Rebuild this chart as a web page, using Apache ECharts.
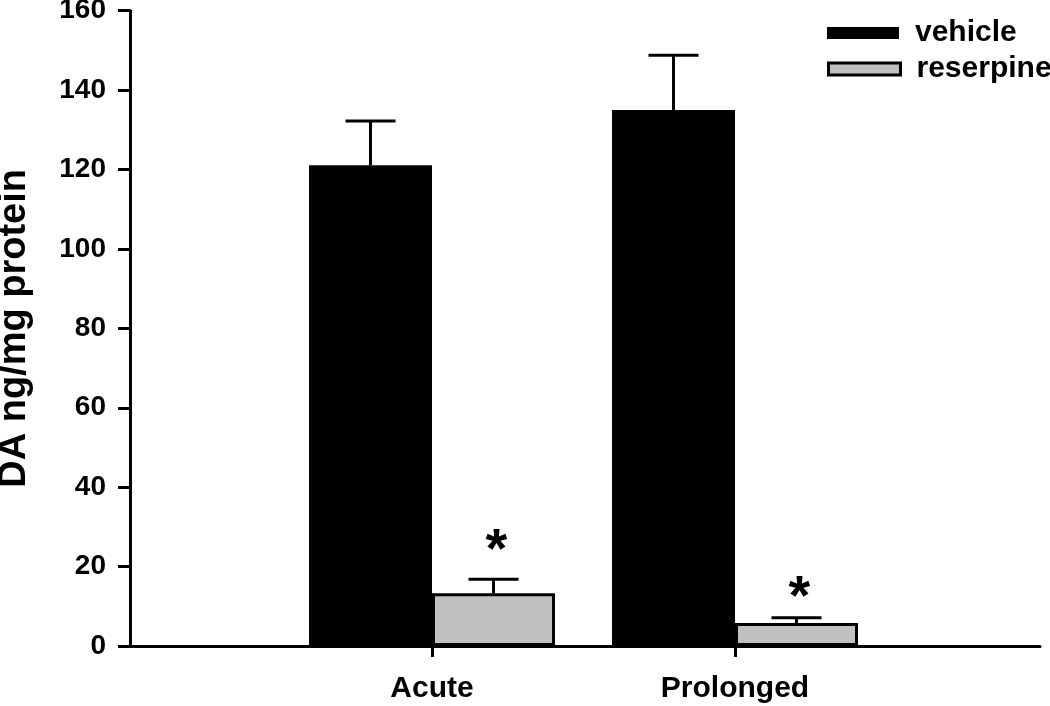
<!DOCTYPE html>
<html>
<head>
<meta charset="utf-8">
<script src="https://cdn.jsdelivr.net/npm/echarts@6/dist/echarts.min.js"></script>
<style>html,body{margin:0;padding:0;background:#fff}#chart{width:1050px;height:706px}</style>
</head>
<body>
<div id="chart"></div>
<script>
// ---- data ----
const categories = ['Acute', 'Prolonged'];
const vehicleMean = [121.1, 135.0];
const vehicleSem = [11.1, 13.8];
const reserpineMean = [13.3, 5.8];
const reserpineSem = [3.5, 1.3];
const reserpineStarY = [26.2, 14.4]; // asterisk anchor values
const yTicks = { min: 0, max: 160, interval: 20 };
const yTitle = 'DA ng/mg protein';
const seriesNames = ['vehicle', 'reserpine'];

const FONT = '"Liberation Sans", Arial, Helvetica, sans-serif';
const BAR_W = 123;

function errRenderer(means, sems, sign, stars, starY) {
  return function (params, api) {
    const i = api.value(0);
    const m = means[i], s = sems[i];
    const base = api.coord([i, m]);
    const top = api.coord([i, m + s]);
    const x = base[0] + sign * BAR_W / 2;
    const children = [
      { type: 'line', shape: { x1: x, y1: base[1], x2: x, y2: top[1] }, style: { stroke: '#000', lineWidth: 3 } },
      { type: 'line', shape: { x1: x - 25, y1: top[1], x2: x + 25, y2: top[1] }, style: { stroke: '#000', lineWidth: 3 } }
    ];
    if (stars) {
      const sp = api.coord([i, starY[i]]);
      children.push({ type: 'text', x: x + 3, y: sp[1] + 10, style: { text: '*', fill: '#000', font: 'bold 56px ' + FONT, align: 'center', verticalAlign: 'middle' } });
    }
    return { type: 'group', children };
  };
}

const chart = echarts.init(document.getElementById('chart'), null, { renderer: 'canvas' });
const option = {
  animation: false,
  backgroundColor: '#fff',
  textStyle: { fontFamily: FONT },
  legend: [
    { data: [seriesNames[0]], left: 822, top: 13, itemWidth: 72, itemHeight: 12, icon: 'rect',
      itemStyle: { color: '#000', borderColor: '#000', borderWidth: 0 },
      textStyle: { fontSize: 30, fontWeight: 'bold', color: '#000', fontFamily: FONT, padding: [0, 0, 0, 11] } },
    { data: [seriesNames[1]], left: 822, top: 49, itemWidth: 72, itemHeight: 12, icon: 'rect',
      itemStyle: { color: '#c0c0c0', borderColor: '#000', borderWidth: 3 },
      textStyle: { fontSize: 30, fontWeight: 'bold', color: '#000', fontFamily: FONT, padding: [0, 0, 0, 11] } }
  ],
  grid: [
    { left: 130, right: 10, top: 10.7, bottom: 60, outerBoundsMode: 'none', containLabel: false },
    { left: 280.5, right: 163.5, top: 10.7, bottom: 60, outerBoundsMode: 'none', containLabel: false }
  ],
  xAxis: [
    { gridIndex: 0, type: 'value', min: 0, max: 1,
      axisLine: { show: true, lineStyle: { color: '#000', width: 3 } },
      axisTick: { show: false }, axisLabel: { show: false }, splitLine: { show: false } },
    { gridIndex: 1, type: 'category', data: categories,
      axisLine: { show: false },
      axisTick: { show: true, alignWithLabel: true, length: 11, lineStyle: { color: '#000', width: 3 } },
      axisLabel: { fontSize: 30, fontWeight: 'bold', color: '#000', margin: 28, fontFamily: FONT },
      splitLine: { show: false } }
  ],
  yAxis: [
    { gridIndex: 0, type: 'value', min: yTicks.min, max: yTicks.max, interval: yTicks.interval,
      name: yTitle, nameLocation: 'middle', nameGap: 96,
      nameTextStyle: { fontSize: 38, fontWeight: 'bold', color: '#000', fontFamily: FONT },
      axisLine: { show: true, lineStyle: { color: '#000', width: 3 } },
      axisTick: { show: true, length: 12, lineStyle: { color: '#000', width: 3 } },
      axisLabel: { fontSize: 28, fontWeight: 'bold', color: '#000', margin: 24, fontFamily: FONT },
      splitLine: { show: false } },
    { gridIndex: 1, type: 'value', min: yTicks.min, max: yTicks.max, interval: yTicks.interval, show: false }
  ],
  series: [
    { name: seriesNames[0], type: 'bar', xAxisIndex: 1, yAxisIndex: 1, data: vehicleMean,
      barWidth: BAR_W, barGap: '0%',
      itemStyle: { color: '#000', borderColor: '#000', borderWidth: 0 } },
    { name: seriesNames[1], type: 'bar', xAxisIndex: 1, yAxisIndex: 1, data: reserpineMean,
      barWidth: BAR_W, barGap: '0%',
      itemStyle: { color: '#c0c0c0', borderColor: '#000', borderWidth: 3 } },
    { type: 'custom', xAxisIndex: 1, yAxisIndex: 1, z: 5, data: categories.map((c, i) => [i]),
      renderItem: errRenderer(vehicleMean, vehicleSem, -1, false) },
    { type: 'custom', xAxisIndex: 1, yAxisIndex: 1, z: 5, data: categories.map((c, i) => [i]),
      renderItem: errRenderer(reserpineMean, reserpineSem, 1, true, reserpineStarY) }
  ]
};
chart.setOption(option);
</script>
</body>
</html>
